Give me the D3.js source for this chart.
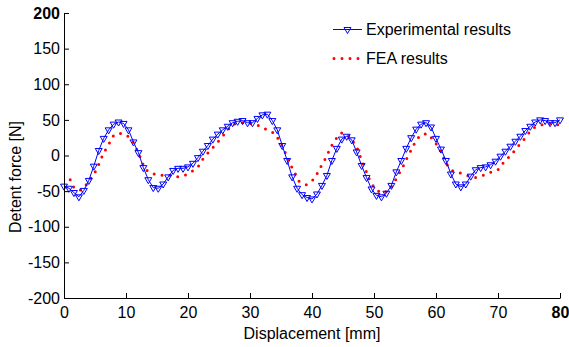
<!DOCTYPE html>
<html>
<head>
<meta charset="utf-8">
<script src="https://cdn.jsdelivr.net/npm/d3@7"></script>
<style>
body { margin: 0; background: #fff; }
svg { display: block; font-family: "Liberation Sans", Arial, sans-serif; }
</style>
</head>
<body>
<div id="chart"></div>
<script>
let width = 569, height = 347;
let margin = ({top: 13, right: 9, bottom: 49, left: 64});

const xTicks = [0, 10, 20, 30, 40, 50, 60, 70, 80];
const yTicks = [-200, -150, -100, -50, 0, 50, 100, 150, 200];
const seriesNames = ["Experimental results", "FEA results"];

// experimental: one sample every 0.8 mm from 0 to 80 mm
const expStep = 0.8;
const expForce = [
  -43, -46, -52, -58, -49, -35, -15, 7, 24, 36,
  44, 47, 45, 36, 19, 4, -17, -34, -45, -46,
  -40, -30, -21, -18, -18, -16, -11, -3, 6, 14,
  23, 30, 36, 41, 46, 48, 49, 46, 46, 52,
  57, 58, 49, 36, 14, -7, -30, -46, -55, -59,
  -61, -54, -42, -28, -7, 10, 23, 27, 22, 5,
  -14, -31, -47, -56, -58, -53, -42, -23, -7, 10,
  25, 37, 44, 46, 40, 24, 9, -7, -26, -40,
  -44, -40, -29, -20, -17, -16, -13, -8, -1, 6,
  13, 20, 27, 35, 41, 47, 50, 49, 46, 46,
  50
];

// FEA curve
const feaDisp = [
  1.0, 1.6, 2.5, 3.2, 3.9, 4.7, 5.4, 5.9, 6.5, 7.3,
  7.9, 8.6, 9.3, 10.5, 11.3, 11.9, 12.5, 12.9, 13.5, 14.1,
  15.6, 16.8, 18.2, 19.5, 20.7, 21.8, 22.6, 23.5, 24.5, 25.4,
  26.3, 27.3, 28.6, 30.1, 31.4, 32.8, 34.0, 34.8, 35.5, 36.0,
  36.6, 37.2, 37.9, 39.1, 40.2, 41.0, 41.7, 42.4, 42.9, 43.6,
  44.5, 45.1, 45.8, 46.6, 47.3, 47.8, 48.3, 48.9, 49.4, 50.3,
  51.4, 52.5, 53.3, 54.0, 54.7, 55.3, 55.9, 56.6, 57.4, 58.6,
  59.7, 60.4, 61.1, 61.6, 62.5, 63.7, 65.0, 66.3, 67.6, 69.0,
  70.2, 71.1, 72.1, 72.9, 73.9, 74.8, 75.8, 77.0, 78.3, 79.6,
  80.0
];
const feaForce = [
  -34, -45, -49, -46, -37, -28, -17, -6, 5, 17,
  27, 31, 31, 26, 17, 5, -6, -17, -22, -25,
  -28, -27, -30, -28, -22, -14, -2, 6, 16, 25,
  35, 44, 46, 45, 42, 36, 31, 20, 8, -2,
  -14, -24, -36, -41, -34, -23, -11, -1, 10, 20,
  31, 32, 29, 20, 10, -2, -14, -25, -37, -48,
  -53, -48, -37, -26, -15, -4, 6, 18, 28, 31,
  21, 11, 0, -11, -21, -24, -28, -31, -28, -23,
  -19, -7, 0, 10, 19, 30, 39, 43, 45, 43,
  44
];

let expData = expForce.map((f, i) => ({x: i * expStep, y: f}));
let feaData = feaDisp.map((d, i) => ({x: d, y: feaForce[i]}));

let x = d3.scaleLinear()
    .domain([0, 80])
    .range([margin.left, width - margin.right]);
let y = d3.scaleLinear()
    .domain([-200, 200])
    .range([height - margin.bottom, margin.top]);

let svg = d3.select("#chart")
    .append("svg")
    .attr("width", width)
    .attr("height", height)
    .attr("viewBox", [0, 0, width, height]);

let line = d3.line()
    .x(d => x(d.x))
    .y(d => y(d.y));

let tri = d3.symbol().type(d3.symbolTriangle).size(21)();

let xAxis = g => g
    .attr("transform", `translate(0,${height - margin.bottom})`)
    .call(d3.axisBottom(x).tickValues(xTicks).tickFormat(d => String(d))
        .tickSizeInner(-5).tickSizeOuter(0).tickPadding(9))
    .call(g => g.selectAll("text").attr("font-size", 16).attr("fill", "#000")
        .attr("font-weight", d => d === 80 ? "bold" : null))
    .call(g => g.selectAll("line, path").attr("stroke", "#000"));

let yAxis = g => g
    .attr("transform", `translate(${margin.left},0)`)
    .call(d3.axisLeft(y).tickValues(yTicks).tickFormat(d => String(d))
        .tickSizeInner(-5).tickSizeOuter(0).tickPadding(4))
    .call(g => g.selectAll("text").attr("font-size", 16).attr("fill", "#000")
        .attr("font-weight", d => d === 200 ? "bold" : null))
    .call(g => g.selectAll("line, path").attr("stroke", "#000"));

// FEA dotted curve
svg.append("path")
    .datum(feaData)
    .attr("fill", "none")
    .attr("stroke", "#ff0000")
    .attr("stroke-width", 3)
    .attr("stroke-linecap", "round")
    .attr("stroke-dasharray", "0 8")
    .attr("d", line);

// experimental line + triangle markers
svg.append("path")
    .datum(expData)
    .attr("fill", "none")
    .attr("stroke", "#0000ff")
    .attr("stroke-width", 1)
    .attr("d", line);

svg.append("g")
    .selectAll("path")
    .data(expData)
    .join("path")
    .attr("transform", d => `translate(${x(d.x)},${y(d.y)}) rotate(180)`)
    .attr("d", tri)
    .attr("fill", "none")
    .attr("stroke", "#0000ff")
    .attr("stroke-width", 1);

svg.append("g").call(xAxis);
svg.append("g").call(yAxis);

// axis titles
svg.append("text")
    .attr("x", (margin.left + width - margin.right) / 2)
    .attr("y", 339)
    .attr("text-anchor", "middle")
    .attr("font-size", 16)
    .text("Displacement [mm]");

svg.append("text")
    .attr("transform", "translate(21,177) rotate(-90)")
    .attr("text-anchor", "middle")
    .attr("font-size", 16)
    .text("Detent force [N]");

// legend
let legend = svg.append("g").attr("font-size", 16);
legend.append("line")
    .attr("x1", 333).attr("x2", 362)
    .attr("y1", 29.5).attr("y2", 29.5)
    .attr("stroke", "#0000ff").attr("stroke-width", 1);
legend.append("path")
    .attr("transform", "translate(347.5,29.5) rotate(180)")
    .attr("d", tri)
    .attr("fill", "none")
    .attr("stroke", "#0000ff");
legend.append("line")
    .attr("x1", 334).attr("x2", 362)
    .attr("y1", 58.5).attr("y2", 58.5)
    .attr("stroke", "#ff0000").attr("stroke-width", 3)
    .attr("stroke-linecap", "round")
    .attr("stroke-dasharray", "0 8");
legend.selectAll("text")
    .data(seriesNames)
    .join("text")
    .attr("x", 366)
    .attr("y", (d, i) => 35 + i * 29)
    .text(d => d);
</script>
</body>
</html>
